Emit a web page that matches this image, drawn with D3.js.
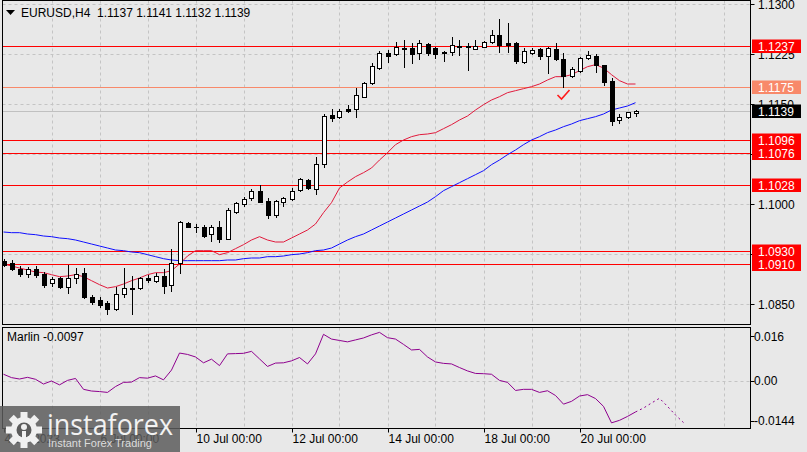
<!DOCTYPE html>
<html>
<head>
<meta charset="utf-8">
<script src="https://cdn.jsdelivr.net/npm/d3@7"></script>
<style>
  body { margin: 0; background: #e8e8e8; }
  svg { display: block; font-family: "Liberation Sans", Arial, sans-serif; }
</style>
</head>
<body>
<svg id="chart" width="807" height="452"></svg>
<script>
// ---- data (EURUSD H4, 4 Jul - 21 Jul 2023) ----
const opens  = [1.0915,1.0912,1.0902,1.0895,1.0902,1.0895,1.0881,1.0889,1.0875,1.0889,
                1.0896,1.0860,1.0856,1.0851,1.0842,1.0865,1.0874,1.0874,1.0889,1.0884,
                1.0892,1.0878,1.0911,1.0971,1.0966,1.0966,1.0955,1.0966,1.0947,1.0988,
                1.1000,1.1009,1.1019,1.1004,1.0983,1.1003,1.1007,1.1021,1.1036,1.1022,
                1.1060,1.1133,1.1130,1.1142,1.1142,1.1160,1.1181,1.1204,1.1226,1.1225,
                1.1234,1.1234,1.1226,1.1240,1.1234,1.1226,1.1228,1.1237,1.1237,1.1232,
                1.1235,1.1243,1.1253,1.1241,1.1241,1.1213,1.1226,1.1232,1.1222,1.1232,
                1.1218,1.1192,1.1199,1.1219,1.1222,1.1208,1.1184,1.1126,1.1130,1.1137];
const highs  = [1.0918,1.0916,1.0907,1.0906,1.0907,1.0898,1.0890,1.0890,1.0909,1.0904,
                1.0904,1.0863,1.0860,1.0854,1.0875,1.0904,1.0892,1.0890,1.0894,1.0896,
                1.0902,1.0933,1.0974,1.0973,1.0970,1.0968,1.0968,1.0974,1.0994,1.1003,
                1.1010,1.1022,1.1028,1.1009,1.1006,1.1010,1.1024,1.1039,1.1037,1.1070,
                1.1135,1.1142,1.1142,1.1148,1.1174,1.1183,1.1211,1.1229,1.1231,1.1243,
                1.1246,1.1241,1.1246,1.1241,1.1235,1.1229,1.1250,1.1246,1.1241,1.1246,
                1.1245,1.1261,1.1277,1.1271,1.1243,1.1234,1.1234,1.1234,1.1235,1.1241,
                1.1226,1.1205,1.1220,1.1229,1.1225,1.1208,1.1189,1.1135,1.1138,1.1141];
const lows   = [1.0907,1.0901,1.0892,1.0890,1.0890,1.0875,1.0877,1.0874,1.0866,1.0881,
                1.0859,1.0850,1.0845,1.0835,1.0841,1.0860,1.0835,1.0873,1.0883,1.0883,
                1.0866,1.0869,1.0896,1.0965,1.0958,1.0951,1.0944,1.0943,1.0947,1.0986,
                1.0997,1.1006,1.1003,1.0979,1.0980,1.0997,1.1006,1.1019,1.1022,1.1015,
                1.1055,1.1124,1.1129,1.1138,1.1130,1.1160,1.1180,1.1202,1.1213,1.1223,
                1.1205,1.1212,1.1217,1.1223,1.1219,1.1214,1.1223,1.1223,1.1201,1.1232,
                1.1235,1.1241,1.1228,1.1228,1.1212,1.1212,1.1225,1.1218,1.1196,1.1216,
                1.1175,1.1190,1.1198,1.1218,1.1198,1.1178,1.1118,1.1121,1.1129,1.1132];
const closes = [1.0909,1.0902,1.0895,1.0902,1.0894,1.0878,1.0887,1.0875,1.0889,1.0895,
                1.0860,1.0853,1.0848,1.0842,1.0865,1.0874,1.0873,1.0889,1.0886,1.0892,
                1.0877,1.0911,1.0973,1.0966,1.0965,1.0952,1.0966,1.0947,1.0991,1.1001,
                1.1007,1.1019,1.1003,1.0983,1.1004,1.1009,1.1019,1.1037,1.1024,1.1060,
                1.1132,1.1129,1.1139,1.1139,1.1163,1.1181,1.1207,1.1226,1.1222,1.1235,
                1.1233,1.1225,1.1241,1.1226,1.1225,1.1228,1.1238,1.1236,1.1236,1.1237,
                1.1243,1.1253,1.1238,1.1238,1.1214,1.1229,1.1231,1.1222,1.1234,1.1218,
                1.1192,1.1202,1.1219,1.1223,1.1208,1.1183,1.1124,1.1130,1.1138,1.1139];

// fast (red) and slow (blue) moving averages, as drawn
const fastMA = [1.0910,1.0907,1.0904,1.0901,1.0898,1.0897,1.0894,1.0891,1.0892,1.0894,
                1.0891,1.0885,1.0879,1.0874,1.0876,1.0880,1.0885,1.0889,1.0894,1.0897,
                1.0897,1.0900,1.0910,1.0922,1.0930,1.0930,1.0930,1.0924,1.0927,1.0933,
                1.0939,1.0946,1.0951,1.0946,1.0943,1.0943,1.0949,1.0955,1.0961,1.0970,
                1.0987,1.1002,1.1024,1.1033,1.1041,1.1047,1.1054,1.1066,1.1077,1.1089,
                1.1096,1.1101,1.1104,1.1105,1.1107,1.1113,1.1119,1.1126,1.1132,1.1141,
                1.1149,1.1156,1.1161,1.1167,1.1170,1.1173,1.1176,1.1180,1.1186,1.1191,
                1.1191,1.1194,1.1200,1.1206,1.1209,1.1204,1.1194,1.1185,1.1180,1.1180];
const slowMA = [1.0958,1.0957,1.0957,1.0955,1.0954,1.0952,1.0951,1.0949,1.0948,1.0946,
                1.0943,1.0940,1.0937,1.0934,1.0931,1.0930,1.0928,1.0927,1.0924,1.0921,
                1.0918,1.0916,1.0915,1.0915,1.0915,1.0915,1.0915,1.0915,1.0916,1.0916,
                1.0918,1.0919,1.0919,1.0921,1.0921,1.0922,1.0924,1.0925,1.0927,1.0930,
                1.0931,1.0934,1.0940,1.0946,1.0951,1.0955,1.0961,1.0967,1.0973,1.0979,
                1.0985,1.0991,1.0997,1.1003,1.1011,1.1020,1.1026,1.1032,1.1038,1.1044,
                1.1050,1.1059,1.1066,1.1074,1.1081,1.1089,1.1096,1.1101,1.1107,1.1111,
                1.1116,1.1120,1.1125,1.1128,1.1131,1.1135,1.1141,1.1144,1.1147,1.1152];

// Marlin oscillator, plus its dotted forecast (starts at the last bar)
const marlin = [0.0023,0.0011,0.0006,0.0012,0.0005,-0.0012,-0.0001,-0.0015,0.0001,0.0008,
                -0.0031,-0.0037,-0.0039,-0.0042,-0.0021,-0.0006,-0.0005,0.0011,0.0009,0.0017,
                0.0003,0.0038,0.0099,0.0094,0.0085,0.0064,0.0077,0.0054,0.0096,0.0097,
                0.0098,0.0105,0.0078,0.0051,0.0063,0.0064,0.0071,0.0083,0.0060,0.0096,
                0.0166,0.0149,0.0144,0.0139,0.0146,0.0153,0.0164,0.0173,0.0154,0.0149,
                0.0130,0.0110,0.0112,0.0085,0.0067,0.0062,0.0060,0.0047,0.0035,0.0026,
                0.0025,0.0023,0.0001,-0.0006,-0.0035,-0.0031,-0.0031,-0.0042,-0.0036,-0.0053,
                -0.0084,-0.0074,-0.0055,-0.0050,-0.0064,-0.0092,-0.0151,-0.0142,-0.0128,-0.0112];
const marlinForecast = [-0.0112,-0.0098,-0.0080,-0.0063,-0.0092,-0.0123,-0.0150];

const redLevels = [1.1237, 1.1096, 1.1076, 1.1028, 1.0930, 1.0910];
const targetLevel = 1.1175;
const lastPrice = 1.1139;
const priceTicks = [1.1300, 1.1225, 1.1150, 1.1075, 1.1000, 1.0925, 1.0850];
const marlinTicks = [0.016, 0, -0.0144];
const marlinTickLabels = ["0.016", "0.00", "-0.0144"];
const timeTickBars = [0, 12, 24, 36, 48, 60, 72];
const timeTickLabels = ["4 Jul 2023", "6 Jul 00:00", "10 Jul 00:00", "12 Jul 00:00",
                        "14 Jul 00:00", "18 Jul 00:00", "20 Jul 00:00"];
const titleText = "EURUSD,H4  1.1137 1.1141 1.1132 1.1139";
const marlinLabel = "Marlin -0.0097";

// ---- layout ----
const svg = d3.select("#chart");
const left = 2.5, right = 750.5;
const mainTop = 0.5, mainBottom = 324.5;
const indTop = 327.5, indBottom = 428.5;

const x = d3.scaleLinear().domain([0, 79]).range([3.5, 635.5]);
const y = d3.scaleLinear().domain([1.0850, 1.1300]).range([304, 4]);
const yInd = d3.scaleLinear().domain([-0.0144, 0.016]).range([420.9, 336]);
const px = v => Math.round(v) + 0.5;

svg.append("rect").attr("width", 807).attr("height", 452).attr("fill", "#e8e8e8");

const defs = svg.append("defs");
defs.append("clipPath").attr("id", "clipMain").append("rect")
  .attr("x", left).attr("y", mainTop).attr("width", right - left).attr("height", mainBottom - mainTop);
defs.append("clipPath").attr("id", "clipInd").append("rect")
  .attr("x", left).attr("y", indTop).attr("width", right - left).attr("height", indBottom - indTop);

const gridColor = "#c4c4c4";
const main = svg.append("g").attr("clip-path", "url(#clipMain)");
const ind = svg.append("g").attr("clip-path", "url(#clipInd)");

// vertical grid: one line per trading day (6 bars)
const dayBars = d3.range(6, 91, 6);
[[main, mainTop, mainBottom], [ind, indTop, indBottom]].forEach(([g, t, b]) => {
  g.selectAll(null).data(dayBars).join("line")
    .attr("x1", d => px(x(d))).attr("x2", d => px(x(d)))
    .attr("y1", t).attr("y2", b)
    .attr("stroke", gridColor).attr("stroke-dasharray", "3,3");
});

// horizontal grid
main.selectAll(null).data(priceTicks).join("line")
  .attr("x1", left).attr("x2", right)
  .attr("y1", d => px(y(d))).attr("y2", d => px(y(d)))
  .attr("stroke", gridColor).attr("stroke-dasharray", "3,3");
ind.append("line")
  .attr("x1", left).attr("x2", right)
  .attr("y1", px(yInd(0))).attr("y2", px(yInd(0)))
  .attr("stroke", gridColor).attr("stroke-dasharray", "3,3");

// level lines
main.append("line")
  .attr("x1", left).attr("x2", right)
  .attr("y1", px(y(lastPrice))).attr("y2", px(y(lastPrice)))
  .attr("stroke", "#c0c0c0");
main.selectAll(null).data(redLevels).join("line")
  .attr("x1", left).attr("x2", right)
  .attr("y1", d => px(y(d))).attr("y2", d => px(y(d)))
  .attr("stroke", "#ff0000");
main.append("line")
  .attr("x1", left).attr("x2", right)
  .attr("y1", px(y(targetLevel))).attr("y2", px(y(targetLevel)))
  .attr("stroke", "#f8896a");

// moving averages
const maLine = d3.line().x((d, i) => x(i)).y(d => y(d));
main.append("path").attr("d", maLine(slowMA))
  .attr("fill", "none").attr("stroke", "#1010ff").attr("stroke-width", 1);
main.append("path").attr("d", maLine(fastMA))
  .attr("fill", "none").attr("stroke", "#e01a3c").attr("stroke-width", 1);

// candles
const bars = opens.map((o, i) => ({ i, o, h: highs[i], l: lows[i], c: closes[i] }));
const candles = main.append("g").attr("shape-rendering", "crispEdges");
candles.selectAll(null).data(bars).join("line")
  .attr("x1", d => px(x(d.i))).attr("x2", d => px(x(d.i)))
  .attr("y1", d => Math.round(y(d.h))).attr("y2", d => Math.round(y(d.l)) + 1)
  .attr("stroke", "#000");
candles.selectAll(null).data(bars).join("rect")
  .attr("x", d => Math.round(x(d.i)) - 2.5 + 0.5)
  .attr("width", 4)
  .attr("y", d => Math.round(y(Math.max(d.o, d.c))) + 0.5)
  .attr("height", d => Math.max(0.01, Math.round(y(Math.min(d.o, d.c))) - Math.round(y(Math.max(d.o, d.c)))))
  .attr("fill", d => d.c > d.o ? "#fff" : "#000")
  .attr("stroke", "#000");

// red check mark
main.append("path")
  .attr("transform", `translate(${x(70)},${y(1.1162)})`)
  .attr("d", "M-6,-1 L-2,3 L6,-6")
  .attr("fill", "none").attr("stroke", "#ff1a1a").attr("stroke-width", 1.6);

// Marlin oscillator
const indLine = d3.line().x((d, i) => x(i)).y(d => yInd(d));
ind.append("path").attr("d", indLine(marlin))
  .attr("fill", "none").attr("stroke", "#8e008e").attr("stroke-width", 1);
const fcLine = d3.line().x((d, i) => x(79 + i)).y(d => yInd(d));
ind.append("path").attr("d", fcLine(marlinForecast))
  .attr("fill", "none").attr("stroke", "#8e008e").attr("stroke-width", 1)
  .attr("stroke-dasharray", "2,3");

// panel frames
svg.append("rect").attr("x", left).attr("y", mainTop)
  .attr("width", right - left).attr("height", mainBottom - mainTop)
  .attr("fill", "none").attr("stroke", "#000");
svg.append("rect").attr("x", left).attr("y", indTop)
  .attr("width", right - left).attr("height", indBottom - indTop)
  .attr("fill", "none").attr("stroke", "#000");

// right price axis
const axisFont = 12;
svg.selectAll(null).data(priceTicks).join("line")
  .attr("x1", right).attr("x2", right + 4)
  .attr("y1", d => px(y(d))).attr("y2", d => px(y(d)))
  .attr("stroke", "#000");
svg.selectAll(null).data(priceTicks).join("text")
  .attr("x", 758).attr("y", d => y(d) + 4.5)
  .attr("font-size", axisFont).attr("fill", "#000")
  .text(d => d.toFixed(4));

// indicator axis
svg.selectAll(null).data(marlinTicks).join("line")
  .attr("x1", right).attr("x2", right + 4)
  .attr("y1", d => px(yInd(d))).attr("y2", d => px(yInd(d)))
  .attr("stroke", "#000");
svg.selectAll(null).data(marlinTicks).join("text")
  .attr("x", (d, i) => i === 2 ? 754 : 754)
  .attr("y", d => yInd(d) + 4.5)
  .attr("font-size", axisFont).attr("fill", "#000")
  .text((d, i) => marlinTickLabels[i]);

// price label boxes
function priceBox(v, fill) {
  const cy = Math.round(y(v));
  svg.append("rect").attr("x", 752).attr("y", cy - 6.5).attr("width", 49).attr("height", 13.5)
    .attr("fill", fill);
  svg.append("text").attr("x", 758).attr("y", cy + 4.5)
    .attr("font-size", axisFont).attr("fill", "#fff").text(v.toFixed(4));
}
redLevels.forEach(v => priceBox(v, "#ff0000"));
priceBox(targetLevel, "#f8896a");
priceBox(lastPrice, "#000");

// time axis
svg.selectAll(null).data(timeTickBars).join("line")
  .attr("x1", d => px(x(d))).attr("x2", d => px(x(d)))
  .attr("y1", indBottom).attr("y2", indBottom + 4)
  .attr("stroke", "#000");
svg.selectAll(null).data(timeTickBars).join("text")
  .attr("x", d => x(d) + 1).attr("y", 443)
  .attr("font-size", axisFont).attr("fill", "#000")
  .text((d, i) => timeTickLabels[i]);

// titles
svg.append("path").attr("d", "M6,10 L15,10 L10.5,15 Z").attr("fill", "#000");
svg.append("text").attr("x", 21).attr("y", 17)
  .attr("font-size", axisFont).attr("fill", "#000").attr("xml:space", "preserve")
  .text(titleText);
svg.append("text").attr("x", 7).attr("y", 341)
  .attr("font-size", axisFont).attr("fill", "#000").text(marlinLabel);

// watermark
const logo = svg.append("g");
logo.append("rect").attr("x", 0).attr("y", 406).attr("width", 180).attr("height", 46)
  .attr("fill", "#5c5c5c").attr("opacity", 0.85);
const gear = logo.append("g").attr("transform", "translate(24,430)");
const teeth = d3.range(8).map(k => k * Math.PI / 4);
gear.selectAll(null).data(teeth).join("rect")
  .attr("x", -3.5).attr("y", -18).attr("width", 7).attr("height", 8)
  .attr("transform", d => `rotate(${d * 180 / Math.PI})`)
  .attr("fill", "#f0f0f0");
gear.append("circle").attr("r", 13).attr("fill", "#f0f0f0");
gear.append("circle").attr("r", 7.5).attr("fill", "#5c5c5c");
gear.append("circle").attr("cy", -3).attr("r", 3).attr("fill", "#f0f0f0");
gear.append("rect").attr("x", -2).attr("y", 1).attr("width", 4).attr("height", 13).attr("fill", "#f0f0f0");
logo.append("text").attr("x", 47).attr("y", 435)
  .attr("font-family", "'Open Sans', 'DejaVu Sans', sans-serif")
  .attr("font-size", 29).attr("fill", "#f2f2f2")
  .attr("textLength", 126).attr("lengthAdjust", "spacingAndGlyphs")
  .text("instaforex");
logo.append("text").attr("x", 48).attr("y", 447)
  .attr("font-size", 11).attr("fill", "#dcdcdc")
  .text("Instant Forex Trading");
</script>
</body>
</html>
